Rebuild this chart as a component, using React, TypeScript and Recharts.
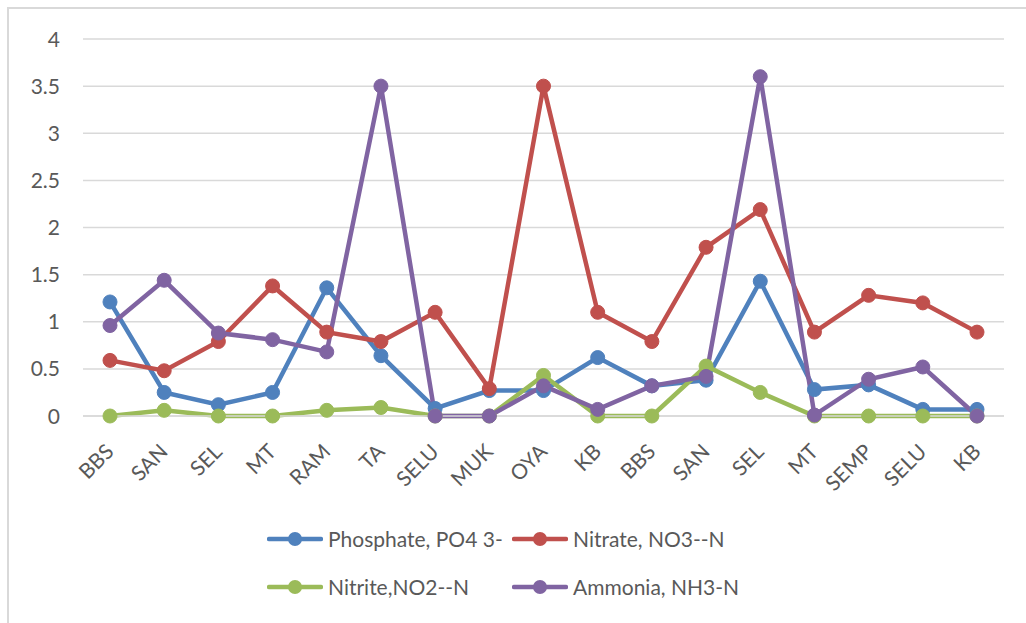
import React from "react";
import { LineChart, Line, XAxis, YAxis, CartesianGrid, Legend } from "recharts";

const categories = ["BBS", "SAN", "SEL", "MT", "RAM", "TA", "SELU", "MUK", "OYA", "KB", "BBS", "SAN", "SEL", "MT", "SEMP", "SELU", "KB"];
const phosphate = [1.21, 0.25, 0.12, 0.25, 1.36, 0.64, 0.08, 0.27, 0.27, 0.62, 0.32, 0.38, 1.43, 0.28, 0.33, 0.07, 0.07];
const nitrate = [0.59, 0.48, 0.79, 1.38, 0.89, 0.79, 1.1, 0.29, 3.5, 1.1, 0.79, 1.79, 2.19, 0.89, 1.28, 1.2, 0.89];
const nitrite = [0, 0.06, 0, 0, 0.06, 0.09, 0, 0, 0.43, 0, 0, 0.53, 0.25, 0, 0, 0, 0];
const ammonia = [0.96, 1.44, 0.88, 0.81, 0.68, 3.5, 0, 0, 0.32, 0.07, 0.32, 0.42, 3.6, 0.01, 0.39, 0.52, 0];
const yTicks = [0, 0.5, 1, 1.5, 2, 2.5, 3, 3.5, 4];

const seriesInfo = [
  { key: "phosphate", name: "Phosphate, PO4 3-", color: "#4F81BD" },
  { key: "nitrate", name: "Nitrate, NO3--N", color: "#C0504D" },
  { key: "nitrite", name: "Nitrite,NO2--N", color: "#9BBB59" },
  { key: "ammonia", name: "Ammonia, NH3-N", color: "#8064A2" },
];

const data = categories.map((c, i) => ({
  idx: i,
  cat: c,
  phosphate: phosphate[i],
  nitrate: nitrate[i],
  nitrite: nitrite[i],
  ammonia: ammonia[i],
}));

const FONT = "Lato, 'Liberation Sans', sans-serif";
const TEXT = "#595959";

const XTick = (props: any) => {
  const { x, y, payload } = props;
  return (
    <g transform={`translate(${x + 5},${y + 37})`}>
      <text transform="rotate(-45)" textAnchor="end" fill={TEXT} fontSize={21} fontFamily={FONT}>
        {categories[payload.value]}
      </text>
    </g>
  );
};

const YTick = (props: any) => {
  const { x, y, payload } = props;
  return (
    <text x={x - 23} y={y} dy="0.36em" textAnchor="end" fill={TEXT} fontSize={21} fontFamily={FONT}>
      {payload.value}
    </text>
  );
};

const LegendItem = ({ name, color }: { name: string; color: string }) => (
  <div style={{ display: "flex", alignItems: "center", width: 245 }}>
    <svg width={56} height={20} style={{ flex: "none" }}>
      <line x1={2} y1={10} x2={54} y2={10} stroke={color} strokeWidth={4.5} strokeLinecap="round" />
      <circle cx={28} cy={10} r={7} fill={color} />
    </svg>
    <span style={{ marginLeft: 5, color: TEXT, fontSize: 21, fontFamily: FONT, whiteSpace: "nowrap" }}>{name}</span>
  </div>
);

const LegendContent = () => (
  <div style={{ height: 102, position: "relative" }}>
    <div style={{ position: "absolute", left: 247, top: 15, display: "flex" }}>
      <LegendItem name={seriesInfo[0].name} color={seriesInfo[0].color} />
      <LegendItem name={seriesInfo[1].name} color={seriesInfo[1].color} />
    </div>
    <div style={{ position: "absolute", left: 247, top: 63, display: "flex" }}>
      <LegendItem name={seriesInfo[2].name} color={seriesInfo[2].color} />
      <LegendItem name={seriesInfo[3].name} color={seriesInfo[3].color} />
    </div>
  </div>
);

export default function App() {
  return (
    <div
      style={{
        position: "absolute",
        left: 0,
        top: 0,
        width: 1026,
        height: 623,
        background: "#fff",
        overflow: "hidden",
      }}
    >
      <div
        style={{
          position: "absolute",
          left: 7,
          top: 7,
          width: 1040,
          height: 640,
          border: "2.5px solid #d9d9d9",
          boxSizing: "border-box",
        }}
      />
      <div style={{ position: "absolute", left: 0, top: 0 }}>
        <LineChart
          width={1026}
          height={623}
          data={data}
          margin={{ top: 39, right: 22, bottom: 10, left: 20 }}
        >
          <CartesianGrid vertical={false} stroke="#d9d9d9" strokeWidth={1.5} />
          <XAxis
            dataKey="idx"
            type="category"
            interval={0}
            height={95}
            padding={{ left: 27, right: 27 }}
            tickSize={0}
            tickMargin={0}
            tickLine={false}
            axisLine={{ stroke: "#d9d9d9", strokeWidth: 1.5 }}
            tick={<XTick />}
          />
          <YAxis
            domain={[0, 4]}
            ticks={yTicks}
            width={63}
            tickSize={0}
            tickMargin={0}
            tickLine={false}
            axisLine={false}
            tick={<YTick />}
            interval={0}
          />
          {seriesInfo.map((s) => (
            <Line
              key={s.key}
              dataKey={s.key}
              name={s.name}
              stroke={s.color}
              strokeWidth={4.5}
              dot={{ r: 7, fill: s.color, stroke: s.color, strokeWidth: 1 }}
              activeDot={false}
              isAnimationActive={false}
            />
          ))}
          <Legend verticalAlign="bottom" content={<LegendContent />} />
        </LineChart>
      </div>
    </div>
  );
}
